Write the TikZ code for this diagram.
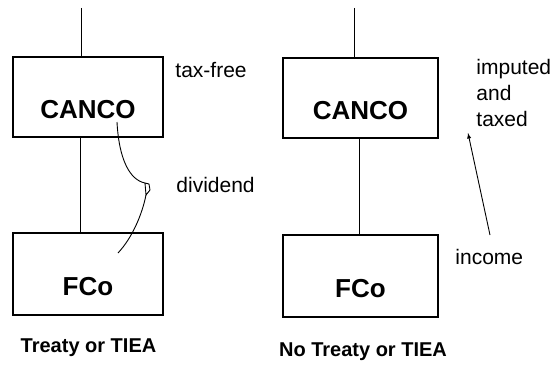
\documentclass[tikz,border=0pt]{standalone}
\usepackage{fontspec}
\setmainfont{Liberation Sans}
\usepackage{tikz}

\begin{document}
\begin{tikzpicture}[x = 1pt, y = -1pt, line width = 0.9pt,
  company/.style = {draw, line width = 1.3pt, minimum width = 150pt, minimum height = 80pt, text height = 42pt, text depth = 0pt, inner sep = 0pt, font = \fontsize{26}{30}\selectfont\bfseries},
  remark/.style = {anchor = west, align = left, inner sep = 0pt, font = \fontsize{21}{26}\selectfont},
  caption/.style = {font = \fontsize{20}{24}\selectfont\bfseries}]
  \useasboundingbox (0, 0) rectangle (557, 369);
  \node [company] (cancoL) at (88, 97) {CANCO};
  \node [company, minimum height = 82pt] (fcoL) at (88, 274) {FCo};
  \node [company, minimum width = 155pt] (cancoR) at (360.5, 98) {CANCO};
  \node [company, minimum width = 155pt, minimum height = 82pt] (fcoR) at (360.5, 276) {FCo};
  \coordinate (topL) at (81, 8);
  \coordinate (topR) at (354, 8);
  \draw (topL) -- (topL |- cancoL.north);
  \draw (topR) -- (topR |- cancoR.north);
  \draw ([xshift = -8pt] cancoL.south) -- ([xshift = -8pt] fcoL.north);
  \draw ([xshift = -1.5pt] cancoR.south) -- ([xshift = -1.5pt] fcoR.north);
  \coordinate (divA) at (117, 122);
  \coordinate (divB) at (145, 183);
  \coordinate (divC) at (118, 253);
  \draw (divA) .. controls (119, 160) and (130, 180) .. (divB) -- (149, 184) -- (150, 190) -- (146, 195) -- (145, 183);
  \draw (146, 195) .. controls (142, 215) and (132, 238) .. (divC);
  \coordinate (incomeTail) at (490, 235);
  \coordinate (taxedTip) at (468, 133);
  \draw [-latex] (incomeTail) -- (taxedTip);
  \node [remark] (taxfree) at (175, 70) {tax-free};
  \node [remark] (dividend) at (176, 185) {dividend};
  \node [remark] (imputed) at (476, 93) {imputed\\and\\taxed};
  \node [remark] (income) at (455, 257) {income};
  \node [caption] (treatyL) at (88.5, 348) {Treaty or TIEA};
  \node [caption] (treatyR) at (363, 352) {No Treaty or TIEA};
\end{tikzpicture}
\end{document}
